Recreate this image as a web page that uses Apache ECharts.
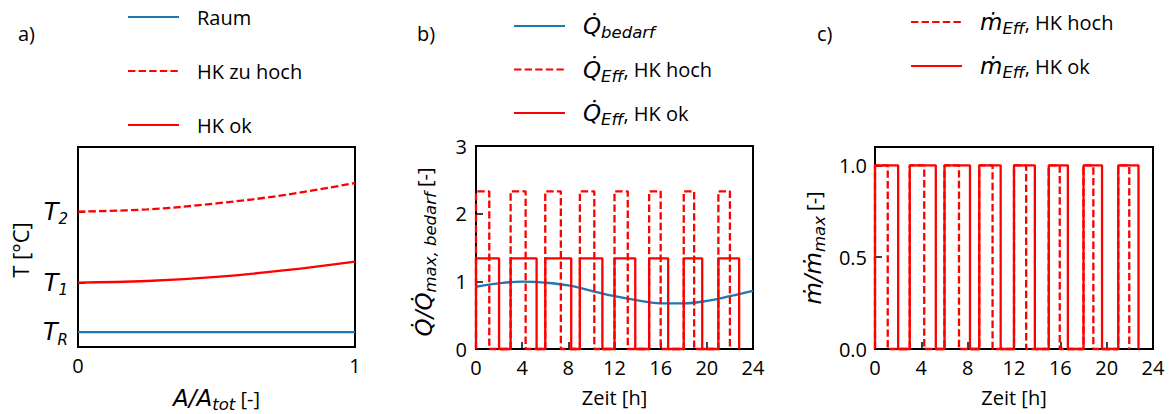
<!DOCTYPE html>
<html><head><meta charset="utf-8">
<script src="https://cdn.jsdelivr.net/npm/echarts@6/dist/echarts.min.js"></script>
<style>html,body{margin:0;padding:0;background:#fff}#c{width:1173px;height:414px}</style>
</head><body><div id="c"></div>
<script>
// ---------- Panel a ----------
const aX = [0, 0.25, 0.5, 0.75, 1];
const aRaum = [7.4, 7.4, 7.4, 7.4, 7.4];
const aHKhoch = [67.7, 68.8, 71.8, 76.1, 82.0];
const aHKok = [32.2, 33.0, 35.1, 38.4, 42.7];
const aYTickValues = [7.4, 32.2, 67.7];
const aYTickSubs = ['R', '1', '2'];
const aXTickValues = [0, 1];

// ---------- Panel b ----------
const hours = [0, 2, 4, 6, 8, 10, 12, 14, 16, 18, 20, 22, 24];
const qBedarf = [0.92, 0.97, 0.995, 0.98, 0.94, 0.86, 0.78, 0.72, 0.675, 0.675, 0.71, 0.78, 0.86];
const pulseStart = [0, 3, 6, 9, 12, 15, 18, 21];
const qEndOk = [2.0, 5.25, 8.25, 10.95, 13.8, 16.65, 19.6, 22.8];
const qEndHoch = [1.15, 4.3, 7.35, 10.25, 13.15, 16.0, 18.9, 22.0];
const qLevelOk = 1.34;
const qLevelHoch = 2.33;
const timeTicks = [0, 4, 8, 12, 16, 20, 24];
const bYTicks = [0, 1, 2, 3];

// ---------- Panel c ----------
const mEndHoch = [1.1, 4.25, 7.25, 10.15, 13.05, 15.95, 18.85, 21.95];
const mEndOk = [2.0, 5.25, 8.2, 10.85, 13.8, 16.65, 19.6, 22.75];
const mLevel = 1.0;
const cYTicks = [0, 0.5, 1.0];

const BLUE = '#1f77b4', RED = '#ff0000';
const FONT = 'Open Sans', MATH = 'DejaVu Sans';
const LW = 2.3;
const DASH = [7.4, 3.2];

const rich = {
  r: {fontFamily: FONT, fontSize: 20, lineHeight: 30, color: '#000'},
  rl: {fontFamily: FONT, fontSize: 22, lineHeight: 30, color: '#000'},
  m: {fontFamily: MATH, fontStyle: 'italic', fontSize: 23, lineHeight: 30, color: '#000'},
  s: {fontFamily: MATH, fontStyle: 'italic', fontSize: 16.5, lineHeight: 21, verticalAlign: 'bottom', color: '#000'},
  r0: {fontFamily: FONT, fontSize: 20, lineHeight: 30, color: '#000', padding: [0, 0, 0, 13]},
  m0: {fontFamily: MATH, fontStyle: 'italic', fontSize: 23, lineHeight: 30, color: '#000', padding: [0, 0, 0, 13]},
  t: {fontFamily: MATH, fontStyle: 'italic', fontSize: 24, lineHeight: 30, color: '#000'},
  ts: {fontFamily: MATH, fontStyle: 'italic', fontSize: 15, lineHeight: 20, verticalAlign: 'bottom', color: '#000'}
};

const legendText = {
  'Raum': '{r0|Raum}',
  'HK zu hoch': '{r0|HK zu hoch}',
  'HK ok': '{r0|HK ok}',
  'Qbedarf': '{m0|Q\u0307}{s|bedarf}',
  'QEffHoch': '{m0|Q\u0307}{s|Eff}{r|, HK hoch}',
  'QEffOk': '{m0|Q\u0307}{s|Eff}{r|, HK ok}',
  'mEffHoch': '{m0|\u1E41}{s|Eff}{r|, HK hoch}',
  'mEffOk': '{m0|\u1E41}{s|Eff}{r|, HK ok}'
};

function pulses(starts, ends, h) {
  const d = [];
  starts.forEach((s, i) => { d.push([s, 0], [s, h], [ends[i], h], [ends[i], 0]); });
  return d;
}
function zip(xs, ys) { return xs.map((x, i) => [x, ys[i]]); }

const tick = {show: true, inside: true, length: 7, lineStyle: {color: '#000', width: 1.5}};
const lbl = {color: '#000', fontFamily: FONT, fontSize: 20, margin: 8};
const gridBase = {show: true, borderColor: '#000', borderWidth: 2, backgroundColor: 'transparent', containLabel: false};
const legendBase = {orient: 'vertical', padding: 0, itemWidth: 51, itemHeight: 14, selectedMode: false,
  formatter: n => legendText[n], itemStyle: {opacity: 0, borderWidth: 0},
  textStyle: {rich, lineHeight: 30, height: 30}};
const titleStyle = {fontFamily: FONT, fontSize: 20, fontWeight: 'normal', color: '#000'};

function yName(x, y, text) {
  return {type: 'text', x, y, rotation: Math.PI / 2, silent: true,
    style: {text, rich, align: 'center', verticalAlign: 'middle', fill: '#000'}};
}

const option = {
  animation: false,
  backgroundColor: '#fff',
  title: [
    {text: 'a)', left: 18, top: 23, padding: 0, textStyle: titleStyle},
    {text: 'b)', left: 417, top: 23, padding: 0, textStyle: titleStyle},
    {text: 'c)', left: 817, top: 23, padding: 0, textStyle: titleStyle}
  ],
  legend: [
    Object.assign({left: 127, top: 2, itemGap: 24, data: ['Raum', 'HK zu hoch', 'HK ok']}, legendBase),
    Object.assign({left: 513, top: 11, itemGap: 13.5, data: ['Qbedarf', 'QEffHoch', 'QEffOk']}, legendBase),
    Object.assign({left: 910, top: 7, itemGap: 14, data: ['mEffHoch', 'mEffOk']}, legendBase)
  ],
  graphic: [
    yName(20, 250, '{rl|T [°C]}'),
    yName(424, 252, '{m|Q\u0307/Q\u0307}{s|max, bedarf}{r| [-]}'),
    yName(813, 248, '{m|\u1E41/\u1E41}{s|max}{r| [-]}')
  ],
  grid: [
    Object.assign({left: 78, top: 147, width: 277, height: 202}, gridBase),
    Object.assign({left: 476, top: 146, width: 277, height: 203}, gridBase),
    Object.assign({left: 875, top: 147, width: 278, height: 202}, gridBase)
  ],
  xAxis: [
    {type: 'value', gridIndex: 0, min: 0, max: 1, interval: 1,
     axisLine: {show: false}, splitLine: {show: false},
     axisTick: Object.assign({customValues: aXTickValues}, tick),
     axisLabel: Object.assign({customValues: aXTickValues}, lbl),
     name: '{m|A/A}{s|tot}{r| [-]}', nameLocation: 'middle', nameGap: 36,
     nameTextStyle: {rich}},
    {type: 'value', gridIndex: 1, min: 0, max: 24, interval: 4,
     axisLine: {show: false}, splitLine: {show: false},
     axisTick: Object.assign({customValues: timeTicks}, tick),
     axisLabel: Object.assign({customValues: timeTicks}, lbl),
     name: '{r|Zeit [h]}', nameLocation: 'middle', nameGap: 33, nameTextStyle: {rich}},
    {type: 'value', gridIndex: 2, min: 0, max: 24, interval: 4,
     axisLine: {show: false}, splitLine: {show: false},
     axisTick: Object.assign({customValues: timeTicks}, tick),
     axisLabel: Object.assign({customValues: timeTicks}, lbl),
     name: '{r|Zeit [h]}', nameLocation: 'middle', nameGap: 33, nameTextStyle: {rich}}
  ],
  yAxis: [
    {type: 'value', gridIndex: 0, min: 0, max: 100,
     axisLine: {show: false}, splitLine: {show: false},
     axisTick: Object.assign({customValues: aYTickValues}, tick),
     axisLabel: Object.assign({}, lbl, {customValues: aYTickValues, margin: 10, rich,
       formatter: v => {
         const i = aYTickValues.findIndex(t => Math.abs(t - v) < 1e-6);
         return '{t|T}{ts|' + aYTickSubs[i] + '}';
       }})},
    {type: 'value', gridIndex: 1, min: 0, max: 3, interval: 1,
     axisLine: {show: false}, splitLine: {show: false},
     axisTick: Object.assign({customValues: bYTicks}, tick),
     axisLabel: Object.assign({customValues: bYTicks}, lbl, {margin: 9})},
    {type: 'value', gridIndex: 2, min: 0, max: 1.1,
     axisLine: {show: false}, splitLine: {show: false},
     axisTick: Object.assign({customValues: cYTicks}, tick),
     axisLabel: Object.assign({customValues: cYTicks}, lbl, {margin: 8, formatter: v => v.toFixed(1)})}
  ],
  series: [
    {name: 'Raum', type: 'line', xAxisIndex: 0, yAxisIndex: 0, data: zip(aX, aRaum), symbol: 'none',
     lineStyle: {color: BLUE, width: LW}, itemStyle: {color: BLUE}},
    {name: 'HK zu hoch', type: 'line', xAxisIndex: 0, yAxisIndex: 0, data: zip(aX, aHKhoch), symbol: 'none', smooth: 0.4,
     lineStyle: {color: RED, width: LW, type: DASH}, itemStyle: {color: RED}},
    {name: 'HK ok', type: 'line', xAxisIndex: 0, yAxisIndex: 0, data: zip(aX, aHKok), symbol: 'none', smooth: 0.4,
     lineStyle: {color: RED, width: LW}, itemStyle: {color: RED}},

    {name: 'Qbedarf', type: 'line', xAxisIndex: 1, yAxisIndex: 1, data: zip(hours, qBedarf), symbol: 'none', smooth: 0.4,
     lineStyle: {color: BLUE, width: LW}, itemStyle: {color: BLUE}},
    {name: 'QEffHoch', type: 'line', xAxisIndex: 1, yAxisIndex: 1, data: pulses(pulseStart, qEndHoch, qLevelHoch), symbol: 'none', clip: false,
     lineStyle: {color: RED, width: LW, type: DASH}, itemStyle: {color: RED}},
    {name: 'QEffOk', type: 'line', xAxisIndex: 1, yAxisIndex: 1, data: pulses(pulseStart, qEndOk, qLevelOk), symbol: 'none', clip: false,
     lineStyle: {color: RED, width: LW}, itemStyle: {color: RED}},

    {name: 'mEffHoch', type: 'line', xAxisIndex: 2, yAxisIndex: 2, data: pulses(pulseStart, mEndHoch, mLevel), symbol: 'none', clip: false,
     lineStyle: {color: RED, width: LW, type: DASH}, itemStyle: {color: RED}},
    {name: 'mEffOk', type: 'line', xAxisIndex: 2, yAxisIndex: 2, data: pulses(pulseStart, mEndOk, mLevel), symbol: 'none', clip: false,
     lineStyle: {color: RED, width: LW}, itemStyle: {color: RED}}
  ]
};

const chart = echarts.init(document.getElementById('c'), null, {renderer: 'svg', width: 1173, height: 414});
chart.setOption(option);
</script>
</body></html>
